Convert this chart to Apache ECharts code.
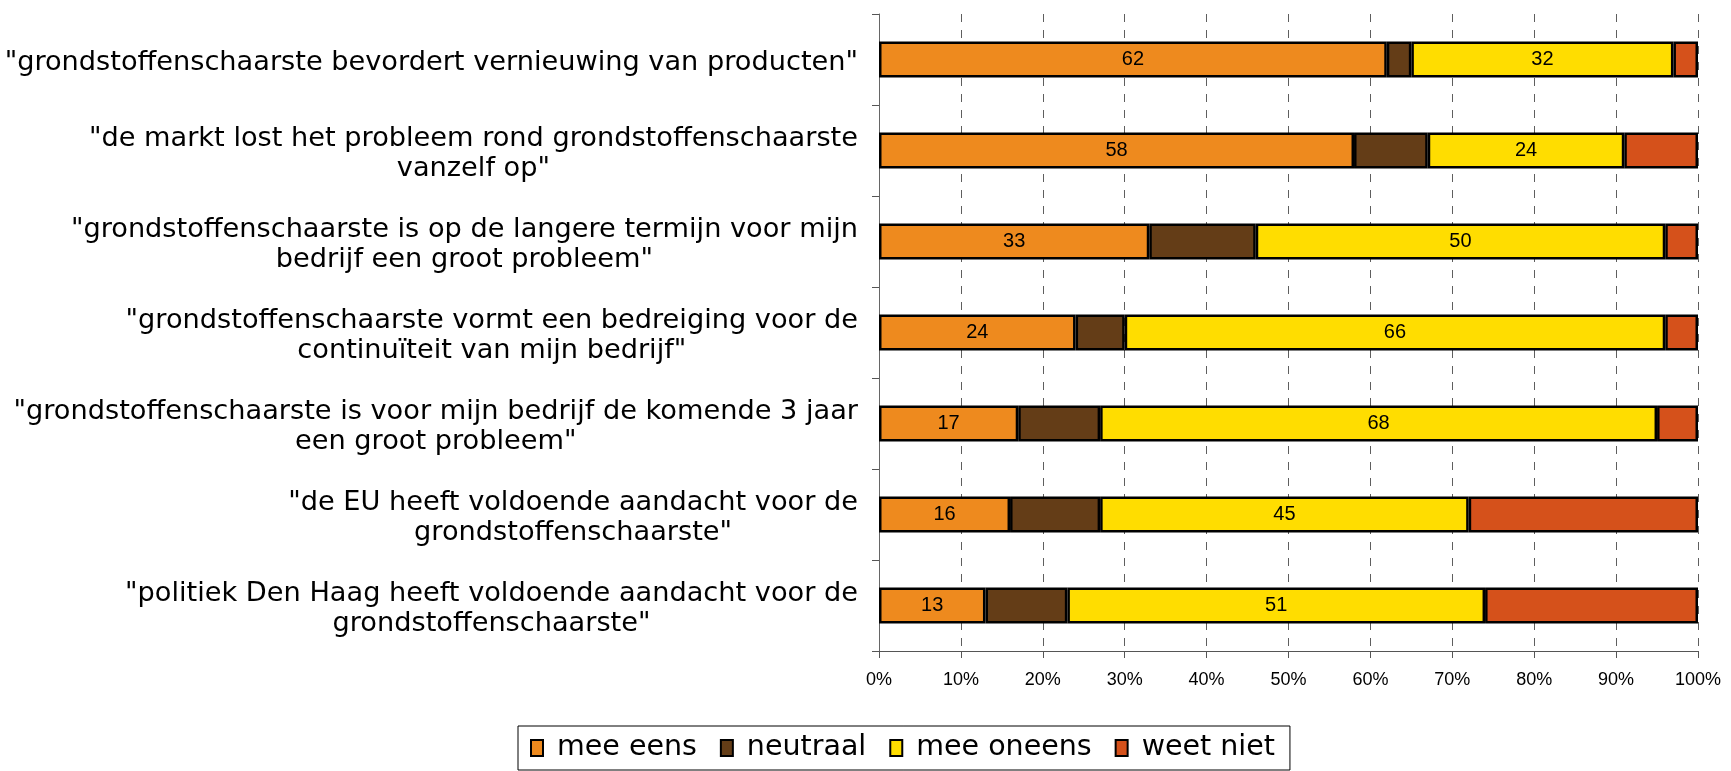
<!DOCTYPE html>
<html>
<head>
<meta charset="utf-8">
<script src="https://cdn.jsdelivr.net/npm/echarts@6/dist/echarts.min.js"></script>
<style>
  html, body { margin: 0; padding: 0; background: #ffffff; }
  #chart { width: 1731px; height: 771px; }
</style>
</head>
<body>
<div id="chart"></div>
<script>
const categories = [
  '"grondstoffenschaarste bevordert vernieuwing van producten"',
  '"de markt lost het probleem rond grondstoffenschaarste\nvanzelf op"',
  '"grondstoffenschaarste is op de langere termijn voor mijn\nbedrijf een groot probleem"',
  '"grondstoffenschaarste vormt een bedreiging voor de\ncontinuïteit van mijn bedrijf"',
  '"grondstoffenschaarste is voor mijn bedrijf de komende 3 jaar\neen groot probleem"',
  '"de EU heeft voldoende aandacht voor de\ngrondstoffenschaarste"',
  '"politiek Den Haag heeft voldoende aandacht voor de\ngrondstoffenschaarste"'
];
const seriesNames = ['mee eens', 'neutraal', 'mee oneens', 'weet niet'];
const meeEens   = [62, 58, 33, 24, 17, 16, 13];
const neutraal  = [3, 9, 13, 6, 10, 11, 10];
const meeOneens = [32, 24, 50, 66, 68, 45, 51];
const weetNiet  = [3, 9, 4, 4, 5, 28, 26];
const xMin = 0, xMax = 100, xStep = 10;

const colors = ['#EE8A1E', '#643D17', '#FFDD00', '#D5511B'];
const values = [meeEens, neutraal, meeOneens, weetNiet];
const showLabel = [true, false, true, false];

const chart = echarts.init(document.getElementById('chart'), null, { renderer: 'canvas' });

const series = seriesNames.map((name, i) => ({
  name: name,
  type: 'bar',
  stack: 'total',
  barWidth: 36,
  data: values[i],
  itemStyle: { color: colors[i], borderColor: '#000000', borderWidth: 2.5 },
  label: {
    show: showLabel[i],
    position: 'inside',
    color: '#000000',
    fontFamily: 'Liberation Sans',
    fontSize: 20
  },
  emphasis: { disabled: true }
}));

chart.setOption({
  animation: false,
  backgroundColor: '#ffffff',
  grid: { left: 879, right: 33, top: 14, bottom: 120, containLabel: false, outerBoundsMode: 'none' },
  legend: {
    data: seriesNames,
    left: 518,
    top: 726,
    orient: 'horizontal',
    padding: [7, 15, 7, 12],
    borderColor: '#000000',
    borderWidth: 1,
    itemWidth: 12,
    itemHeight: 16,
    itemGap: 23,
    icon: 'rect',
    formatter: function (n) { return '{t|' + n + '}'; },
    textStyle: {
      color: '#000000',
      fontFamily: 'DejaVu Sans',
      fontSize: 28.5,
      lineHeight: 30,
      rich: {
        t: { fontFamily: 'DejaVu Sans', fontSize: 28.5, lineHeight: 30, color: '#000000', padding: [0, 0, 0, 9] }
      }
    }
  },
  xAxis: {
    type: 'value',
    min: xMin,
    max: xMax,
    interval: xStep,
    axisLine: { show: true, lineStyle: { color: '#555555', width: 1 } },
    axisTick: { show: true, length: 7, lineStyle: { color: '#555555' } },
    axisLabel: {
      formatter: '{value}%',
      color: '#000000',
      fontFamily: 'Liberation Sans',
      fontSize: 18,
      margin: 20
    },
    splitLine: { show: true, lineStyle: { color: '#5e5e5e', type: [8, 8], width: 1 } }
  },
  yAxis: {
    type: 'category',
    inverse: true,
    data: categories,
    axisLine: { show: true, lineStyle: { color: '#666666', width: 1 } },
    axisTick: { show: true, length: 7, alignWithLabel: false, lineStyle: { color: '#555555' } },
    axisLabel: {
      margin: 21,
      color: '#000000',
      fontFamily: 'DejaVu Sans',
      fontSize: 27.2,
      lineHeight: 30,
      padding: [7, 0, 0, 0],
      formatter: function (v) {
        return v.split('\n').map(function (l) { return '{c|' + l + '}'; }).join('\n');
      },
      rich: {
        c: { align: 'center', fontFamily: 'DejaVu Sans', fontSize: 27.2, lineHeight: 30, color: '#000000' }
      }
    },
    splitLine: { show: false }
  },
  series: series
});
</script>
</body>
</html>
